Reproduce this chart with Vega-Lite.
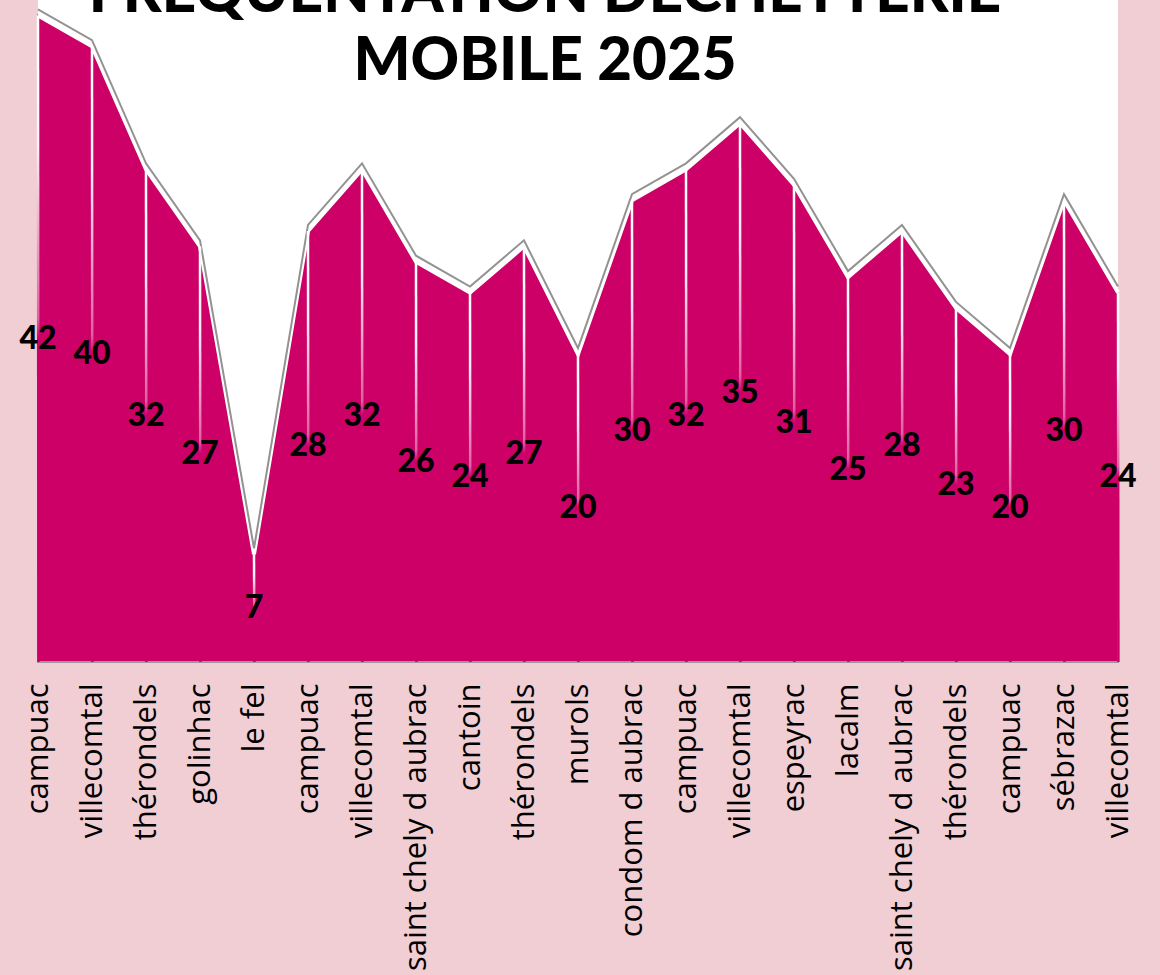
{
  "$schema": "https://vega.github.io/schema/vega-lite/v6.json",
  "width": 1080,
  "height": 662,
  "autosize": {"type": "none"},
  "padding": {"left": 38, "top": 0, "right": 42, "bottom": 313},
  "background": "#f1cdd4",
  "config": {
    "view": {"fill": "white", "stroke": null},
    "axis": {"grid": false}
  },
  "title": {
    "text": ["FRÉQUENTATION DÉCHETTERIE", "MOBILE 2025"],
    "font": "Lato",
    "fontWeight": 900,
    "fontSize": 60,
    "lineHeight": 68,
    "color": "black",
    "anchor": "middle",
    "frame": "group",
    "dx": -33,
    "offset": -93
  },
  "data": {
    "values": [
      {"name": "campuac", "v": 42},
      {"name": "villecomtal", "v": 40},
      {"name": "thérondels", "v": 32},
      {"name": "golinhac", "v": 27},
      {"name": "le fel", "v": 7},
      {"name": "\u200bcampuac", "v": 28},
      {"name": "\u200bvillecomtal", "v": 32},
      {"name": "saint chely d aubrac", "v": 26},
      {"name": "cantoin", "v": 24},
      {"name": "\u200bthérondels", "v": 27},
      {"name": "murols", "v": 20},
      {"name": "condom d aubrac", "v": 30},
      {"name": "\u200b\u200bcampuac", "v": 32},
      {"name": "\u200b\u200bvillecomtal", "v": 35},
      {"name": "espeyrac", "v": 31},
      {"name": "lacalm", "v": 25},
      {"name": "\u200bsaint chely d aubrac", "v": 28},
      {"name": "\u200b\u200bthérondels", "v": 23},
      {"name": "\u200b\u200b\u200bcampuac", "v": 20},
      {"name": "sébrazac", "v": 30},
      {"name": "\u200b\u200b\u200bvillecomtal", "v": 24}
    ]
  },
  "encoding": {
    "x": {
      "field": "name",
      "type": "ordinal",
      "sort": null,
      "scale": {"type": "point", "padding": 0},
      "axis": {
        "title": null,
        "domain": false,
        "ticks": false,
        "labelAngle": 270,
        "labelAlign": "right",
        "labelBaseline": "middle",
        "labelPadding": 21,
        "labelFont": "Open Sans",
        "labelFontSize": 31,
        "labelColor": "black",
        "labelOverlap": false,
        "labelLimit": 0
      }
    }
  },
  "layer": [
    {
      "mark": {"type": "area", "color": "#cc0066", "stroke": "#9a9a9a", "strokeWidth": 2},
      "encoding": {
        "y": {"field": "v", "type": "quantitative", "scale": {"domain": [0, 43], "nice": false}, "axis": null}
      }
    },
    {
      "mark": {"type": "line", "color": "white", "strokeWidth": 4},
      "encoding": {
        "y": {"field": "v", "type": "quantitative", "scale": {"domain": [0, 43], "nice": false}, "axis": null}
      }
    },
    {
      "mark": {"type": "line", "color": "#929292", "strokeWidth": 2, "yOffset": -6},
      "encoding": {
        "y": {"field": "v", "type": "quantitative", "scale": {"domain": [0, 43], "nice": false}, "axis": null}
      }
    },
    {
      "mark": {
        "type": "rule",
        "x2Offset": 0.4,
        "strokeWidth": 2.5,
        "stroke": {
          "gradient": "linear",
          "x1": 0, "y1": 0, "x2": 0, "y2": 1,
          "stops": [
            {"offset": 0, "color": "#ffffff"},
            {"offset": 0.2, "color": "#fdf0f6"},
            {"offset": 0.47, "color": "#e060a0"},
            {"offset": 0.5, "color": "#cc0066"},
            {"offset": 1, "color": "#cc0066"}
          ]
        }
      },
      "encoding": {
        "x2": {"field": "name"},
        "y": {"field": "v", "type": "quantitative", "scale": {"domain": [0, 43], "nice": false}, "axis": null},
        "y2": {"datum": 0}
      }
    },
    {
      "mark": {"type": "text", "font": "Lato", "fontWeight": 900, "fontSize": 32, "color": "black", "align": "center", "baseline": "middle"},
      "encoding": {
        "y": {"field": "v", "type": "quantitative", "scale": {"domain": [0, 86], "nice": false}, "axis": null},
        "text": {"field": "v", "type": "quantitative"}
      }
    }
  ],
  "resolve": {"scale": {"y": "independent"}}
}
